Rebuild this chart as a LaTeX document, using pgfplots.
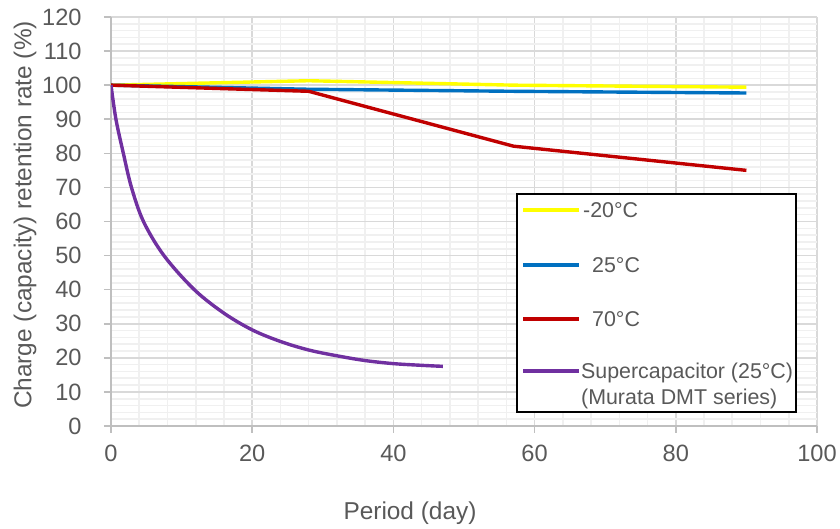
\documentclass[border=0pt]{standalone}
\usepackage{pgfplots}
\pgfplotsset{compat=1.18}
\usepackage{fontspec}
\setmainfont{Liberation Sans}
\definecolor{txt}{HTML}{595959}
\definecolor{gmaj}{HTML}{D9D9D9}
\definecolor{gmin}{HTML}{F0F0F0}
\definecolor{axc}{HTML}{BFBFBF}
\definecolor{cyel}{HTML}{FFFF00}
\definecolor{cblu}{HTML}{0070C0}
\definecolor{cred}{HTML}{C00000}
\definecolor{cpur}{HTML}{7030A0}
\pgfplotsset{twolineleg/.style={legend image code/.code={\draw[##1, line width=2pt] (0pt,6.6pt) -- (28pt,6.6pt);}}}
\begin{document}
\fontsize{11.8}{14.2}\selectfont
\begin{tikzpicture}
\begin{axis}[
  scale only axis,
  width=353pt, height=204.5pt,
  xmin=0, xmax=100, ymin=0, ymax=120,
  xtick={0,20,...,100}, ytick={0,10,...,120},
  minor x tick num=4, minor y tick num=4,
  grid=both,
  major grid style={gmaj, line width=0.8pt},
  minor grid style={gmin, line width=0.8pt},
  axis x line=bottom, axis y line=left,
  axis line style={axc, line width=0.8pt, -},
  tick align=outside,
  major tick length=3.5pt, minor tick length=0pt,
  tick style={axc, line width=0.8pt},
  /pgf/number format/assume math mode=true,
  ticklabel style={text=txt},
  yticklabel style={anchor=east, inner sep=0pt, xshift=-11pt},
  xticklabel style={anchor=north, inner sep=0pt, yshift=-6pt},
  xlabel={Period (day)},
  ylabel={Charge (capacity) retention rate (\%)},
  label style={text=txt, font=\fontsize{12.2}{14.6}\selectfont},
  x label style={at={(axis description cs:0.4235,0)}, anchor=center, yshift=-43.5pt},
  y label style={at={(axis description cs:-0.1218,0.516)}, anchor=center, rotate=0},
  legend style={at={(axis cs:57.4,68.4)}, anchor=north west, draw=black, line width=0.9pt,
    fill=white, text=txt, font=\fontsize{10.7}{12.8}\selectfont,
    inner xsep=2pt, inner ysep=2.5pt, row sep=15.6pt,
    nodes={text depth=},
    /tikz/every even column/.append style={column sep=0pt}},
  legend cell align=left,
  legend image code/.code={\draw[#1, line width=2pt] (0pt,0pt) -- (28pt,0pt);},
]
\addplot[cyel, line width=1.7pt] coordinates {(0,100) (28,101.3) (57,100) (90,99.4)};
\addlegendentry{\hspace{-1pt}-20°C}
\addplot[cblu, line width=1.7pt] coordinates {(0,100) (28,98.8) (57,98.2) (90,97.7)};
\addlegendentry{\hspace{3.5pt}25°C}
\addplot[cred, line width=1.7pt] coordinates {(0,100) (28,98.2) (57,82.1) (90,75.0)};
\addlegendentry{\hspace{3.5pt}70°C}
\addplot[cpur, line width=1.7pt, smooth, tension=0.55, twolineleg] coordinates {
(0,100) (0.7,90) (1.75,80) (2.9,70) (4.6,60) (7.5,50) (11.8,40) (16,33.1)
(20,28.2) (24,24.8) (28,22.3) (32,20.6) (36,19.2) (40,18.3) (44,17.8) (47,17.5)};
\addlegendentry{\raisebox{0pt}[6.4pt][12pt]{\begin{tabular}[t]{@{\hspace{-2pt}}l@{\hspace{-2.5pt}}}Supercapacitor (25°C)\\(Murata DMT series)\end{tabular}}}
\end{axis}
\pgfresetboundingbox
\path[use as bounding box] (-55.5pt,-51.5pt) rectangle (364.5pt,213pt);
\end{tikzpicture}
\end{document}
